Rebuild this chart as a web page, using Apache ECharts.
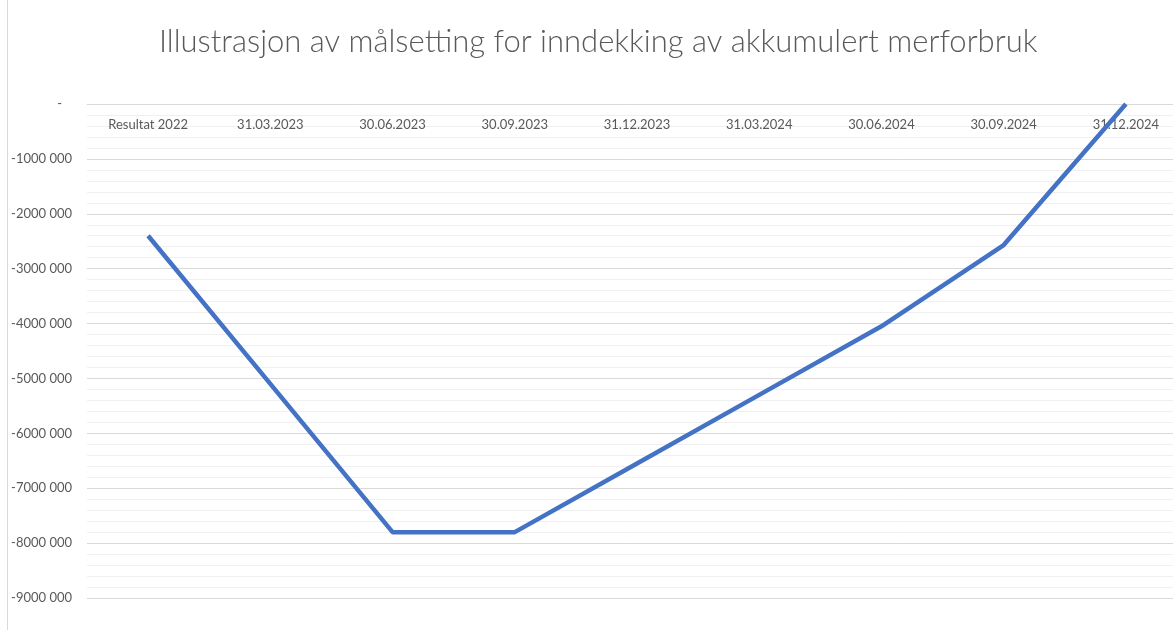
<!DOCTYPE html>
<html><head><meta charset="utf-8">
<script src="https://cdn.jsdelivr.net/npm/echarts@6/dist/echarts.min.js"></script>
<style>html,body{margin:0;padding:0;background:#fff}#c{width:1173px;height:630px}</style>
</head><body><div id="c"></div>
<script>
var titleText = 'Illustrasjon av målsetting for inndekking av akkumulert merforbruk';
var categories = ['Resultat 2022','31.03.2023','30.06.2023','30.09.2023','31.12.2023','31.03.2024','30.06.2024','30.09.2024','31.12.2024'];
var values = [-2400000,-5100000,-7800000,-7800000,-6550000,-5300000,-4050000,-2570000,0];

function fmt(v){
  if (v === 0) return '-   ';
  var s = String(Math.abs(v));
  var last = s.slice(-3), first = s.slice(0, -3);
  return (v < 0 ? '-' : '') + first + ' ' + last;
}

var chart = echarts.init(document.getElementById('c'));
chart.setOption({
  animation:false,
  title:{text:titleText,left:154,top:21,textStyle:{fontFamily:'Lato',fontWeight:300,fontSize:31,color:'#595959'}},
  grid:{left:87,width:1100,top:104,height:494,containLabel:false,outerBoundsMode:'none'},
  xAxis:{type:'category',data:categories,boundaryGap:true,position:'top',
    axisLine:{onZero:false,lineStyle:{color:'#d9d9d9',width:1}},
    axisTick:{show:false},
    axisLabel:{inside:true,color:'#595959',fontFamily:'Lato',fontSize:13,margin:14},
    splitLine:{show:false}},
  yAxis:{type:'value',min:-9000000,max:0,interval:1000000,
    axisLine:{show:false},axisTick:{show:false},
    axisLabel:{color:'#595959',fontFamily:'Lato',fontSize:13,margin:15,formatter:fmt},
    splitLine:{show:true,lineStyle:{color:'#d9d9d9',width:1}},
    minorTick:{show:false,splitNumber:5},
    minorSplitLine:{show:true,lineStyle:{color:'#f0f0f0',width:1}}},
  series:[{type:'line',data:values,showSymbol:false,symbol:'none',
    lineStyle:{color:'#4472c4',width:4.5},itemStyle:{color:'#4472c4'}}],
  graphic:[{type:'line',shape:{x1:7.5,y1:0,x2:7.5,y2:630},style:{stroke:'#d9d9d9',lineWidth:1},silent:true}]
});
</script></body></html>
